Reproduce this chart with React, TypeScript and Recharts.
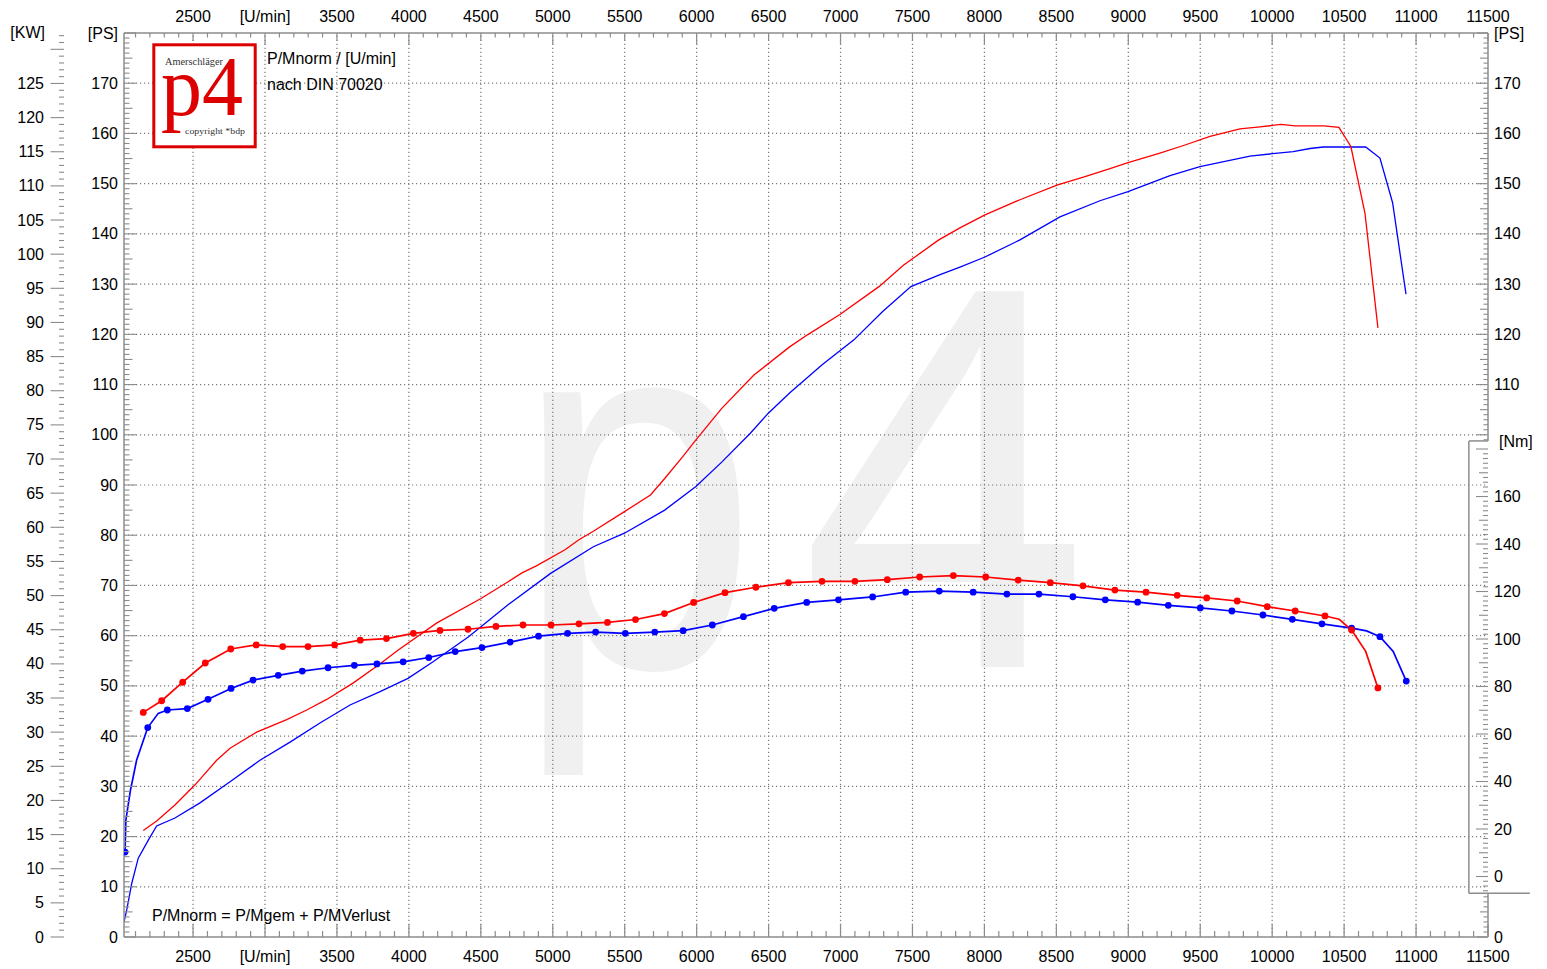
import React from 'react';
import { ComposedChart, Line, XAxis, YAxis, ReferenceLine, ReferenceArea } from 'recharts';

const W = 1547;
const H = 969;
const AXIS = '#8c8c8c';
const GRID = '#7a7a7a';
const FONT = '"Liberation Sans", Arial, Helvetica, sans-serif';
const SERIF = '"Liberation Serif", "Times New Roman", serif';
const RED = '#ff0000';
const BLUE = '#0000ff';

// ---- data ----
const redPowerRpm = [2154, 2247, 2374, 2514, 2664, 2757, 2942, 3151, 3290, 3429, 3614, 3796, 3919, 4192, 4501, 4687, 4786, 4886, 5085, 5182, 5282, 5498, 5679, 5778, 5902, 5995, 6176, 6398, 6646, 6770, 6993, 7267, 7439, 7683, 7830, 8004, 8247, 8504, 8699, 8873, 8998, 9220, 9394, 9568, 9776, 9915, 10061, 10158, 10360, 10464, 10547, 10645, 10735];
const redPowerPs = [21.2, 23.1, 26.3, 30.3, 35.2, 37.6, 40.8, 43.3, 45.2, 47.3, 50.6, 54.3, 57.0, 62.5, 67.4, 70.7, 72.5, 73.9, 77.1, 79.1, 80.8, 84.7, 88.0, 91.3, 95.6, 99.0, 105.3, 111.9, 117.5, 119.9, 123.9, 129.5, 133.8, 138.8, 141.2, 143.8, 146.8, 149.7, 151.4, 153.0, 154.2, 156.1, 157.7, 159.4, 160.9, 161.3, 161.8, 161.5, 161.5, 161.2, 157.4, 144.1, 121.3];

const bluePowerRpm = [2020, 2039, 2074, 2119, 2189, 2247, 2374, 2548, 2757, 2965, 3174, 3382, 3591, 3796, 3994, 4168, 4415, 4687, 4985, 5282, 5498, 5778, 5995, 6176, 6373, 6498, 6646, 6870, 7093, 7291, 7489, 7683, 7830, 8004, 8247, 8525, 8803, 8998, 9290, 9498, 9846, 10146, 10263, 10355, 10650, 10749, 10837, 10930];
const bluePowerPs = [3.0, 5.4, 10.7, 15.7, 19.3, 22.1, 23.7, 26.7, 30.9, 35.2, 38.8, 42.6, 46.2, 48.8, 51.5, 54.8, 59.8, 66.1, 72.4, 77.7, 80.4, 85.0, 89.7, 94.6, 100.3, 104.3, 108.3, 113.9, 118.9, 124.5, 129.5, 131.8, 133.4, 135.4, 138.8, 143.4, 146.6, 148.4, 151.6, 153.4, 155.5, 156.4, 157.0, 157.3, 157.3, 155.1, 146.2, 128.0];

const redTorqueRpm = [2154, 2282, 2428, 2585, 2762, 2939, 3123, 3299, 3484, 3662, 3844, 4031, 4216, 4411, 4605, 4793, 4988, 5182, 5380, 5575, 5776, 5979, 6197, 6412, 6638, 6871, 7100, 7325, 7550, 7784, 8009, 8235, 8458, 8685, 8907, 9123, 9340, 9545, 9757, 9966, 10160, 10367, 10466, 10552, 10650, 10735];
const redTorqueNm = [69.1, 74.0, 81.8, 89.9, 95.8, 97.5, 96.8, 96.8, 97.5, 99.5, 100.2, 102.4, 103.6, 104.1, 105.3, 105.9, 105.9, 106.4, 107.0, 108.2, 110.7, 115.4, 119.5, 121.8, 123.7, 124.3, 124.3, 125.0, 126.1, 126.7, 126.1, 124.8, 123.7, 122.4, 120.6, 119.7, 118.4, 117.3, 116.0, 113.6, 111.8, 109.7, 108.3, 103.8, 94.8, 79.4];
const redTorqueDot = [1, 1, 1, 1, 1, 1, 1, 1, 1, 1, 1, 1, 1, 1, 1, 1, 1, 1, 1, 1, 1, 1, 1, 1, 1, 1, 1, 1, 1, 1, 1, 1, 1, 1, 1, 1, 1, 1, 1, 1, 1, 1, 0, 1, 0, 1];

const blueTorqueRpm = [2027, 2033, 2065, 2108, 2185, 2258, 2321, 2460, 2604, 2764, 2917, 3092, 3259, 3438, 3621, 3778, 3960, 4138, 4322, 4508, 4704, 4901, 5103, 5298, 5504, 5709, 5906, 6109, 6325, 6539, 6765, 6986, 7223, 7453, 7686, 7922, 8156, 8379, 8615, 8840, 9065, 9278, 9500, 9720, 9936, 10140, 10346, 10552, 10656, 10749, 10841, 10932];
const blueTorqueNm = [10.3, 23.8, 36.4, 49.1, 62.7, 68.7, 70.1, 70.7, 74.6, 79.2, 82.7, 84.7, 86.5, 87.9, 88.9, 89.5, 90.4, 92.2, 94.7, 96.4, 98.7, 101.2, 102.4, 102.9, 102.4, 102.9, 103.5, 105.9, 109.4, 112.9, 115.4, 116.5, 117.7, 119.7, 120.2, 119.7, 118.9, 118.9, 117.8, 116.5, 115.5, 114.2, 113.1, 111.8, 110.1, 108.3, 106.4, 104.6, 103.4, 101.0, 94.8, 82.3];
const blueTorqueDot = [1, 0, 0, 0, 1, 0, 1, 1, 1, 1, 1, 1, 1, 1, 1, 1, 1, 1, 1, 1, 1, 1, 1, 1, 1, 1, 1, 1, 1, 1, 1, 1, 1, 1, 1, 1, 1, 1, 1, 1, 1, 1, 1, 1, 1, 1, 1, 1, 0, 1, 0, 1];

// ---- axes ----
const RPM_DOMAIN = [2020, 11500];
const PS_DOMAIN = [0, 180];
const KW_DOMAIN = [0, 180 / 1.35962];
const NM_DOMAIN = [-25.47, 355.16];

const range = (a: number, b: number, s: number) => {
  const r: number[] = [];
  for (let v = a; v <= b + 1e-9; v += s) r.push(Math.round(v * 1000) / 1000);
  return r;
};
const rpmTicks = range(2100, 11500, 100);
const psTicks = range(0, 180, 1);
const kwTicks = range(0, 132, 1);
const nmTicks = range(-6, 180, 2);
const gridRpm = range(2500, 11000, 500);
const gridPs = range(10, 170, 10);

const mk = (xs: number[], ys: number[], ds?: number[]) =>
  xs.map((rpm, i) => ({ rpm, v: ys[i], d: ds ? ds[i] : 0 }));

const redPower = mk(redPowerRpm, redPowerPs);
const bluePower = mk(bluePowerRpm, bluePowerPs);
const redTorque = mk(redTorqueRpm, redTorqueNm, redTorqueDot);
const blueTorque = mk(blueTorqueRpm, blueTorqueNm, blueTorqueDot);

const txt = { fontSize: 16, fontFamily: FONT, fill: '#000' } as const;

const BottomTick = (p: any) => {
  const { x, y, payload } = p;
  const v = payload.value;
  const major = v % 500 === 0;
  return (
    <g>
      <line x1={x} x2={x} y1={y} y2={y - (major ? 13 : 6)} stroke={AXIS} strokeWidth={1.2} />
      {major && (
        <text x={x} y={y + 24.5} textAnchor="middle" {...txt}>
          {v === 3000 ? '[U/min]' : v}
        </text>
      )}
    </g>
  );
};

const TopTick = (p: any) => {
  const { x, y, payload } = p;
  const v = payload.value;
  const len = v % 1000 === 0 ? 12 : v % 500 === 0 ? 8 : 4.5;
  return (
    <g>
      <line x1={x} x2={x} y1={y} y2={y + len} stroke={AXIS} strokeWidth={1.2} />
      {v % 500 === 0 && (
        <text x={x} y={y - 11.5} textAnchor="middle" {...txt}>
          {v === 3000 ? '[U/min]' : v}
        </text>
      )}
    </g>
  );
};

const PsLeftTick = (p: any) => {
  const { x, y, payload } = p;
  const v = payload.value;
  const len = v % 10 === 0 ? 12 : v % 5 === 0 ? 8.5 : 5.5;
  return (
    <g>
      <line x1={x} x2={x + len} y1={y} y2={y} stroke={AXIS} strokeWidth={1.1} />
      {v % 10 === 0 && (
        <text x={x - 6} y={y + 5.5} textAnchor="end" {...txt}>
          {v === 180 ? '[PS]' : v}
        </text>
      )}
    </g>
  );
};

const PsRightTick = (p: any) => {
  const { x, y, payload } = p;
  const v = payload.value;
  const len = v % 10 === 0 ? 11 : v % 5 === 0 ? 8 : 4.5;
  const inBox = v > 8.7 && v < 98.8;
  if (inBox) return <g />;
  const showLabel = v % 10 === 0 && v !== 100;
  return (
    <g>
      <line x1={x - len} x2={x} y1={y} y2={y} stroke={AXIS} strokeWidth={1.1} />
      {showLabel && (
        <text x={x + 6} y={y + 5.5} textAnchor="start" {...txt}>
          {v === 180 ? '[PS]' : v}
        </text>
      )}
    </g>
  );
};

const KwTick = (p: any) => {
  const { x, y, payload } = p;
  const v = payload.value;
  const major = v % 5 === 0;
  return (
    <g>
      <line x1={x - (major ? 13.5 : 5)} x2={x} y1={y} y2={y} stroke={AXIS} strokeWidth={1.1} />
      {major && v <= 125 && (
        <text x={x - 20} y={y + 5.5} textAnchor="end" {...txt}>
          {v}
        </text>
      )}
    </g>
  );
};

const NmTick = (p: any) => {
  const { x, y, payload } = p;
  const v = payload.value;
  const len = v % 20 === 0 ? 12 : v % 10 === 0 ? 9 : 5;
  return (
    <g>
      <line x1={x - len} x2={x} y1={y} y2={y} stroke={AXIS} strokeWidth={1.1} />
      {v % 20 === 0 && v >= 0 && v <= 160 && (
        <text x={x + 6} y={y + 5.5} textAnchor="start" {...txt}>
          {v}
        </text>
      )}
    </g>
  );
};

const makeDot = (color: string) => (p: any) => {
  const { cx, cy, payload, index } = p;
  if (!payload || !payload.d) return <g key={`n${index}`} />;
  return <circle key={`d${index}`} cx={cx} cy={cy} r={3.4} fill={color} stroke="none" />;
};

export default function App() {
  return (
    <div style={{ position: 'absolute', left: 0, top: 0, width: W, height: H, background: '#fff' }}>
      {/* watermark */}
      <svg width={W} height={H} style={{ position: 'absolute', left: 0, top: 0 }}>
        <g transform="translate(515,667) scale(0.84,1)">
          <text x={0} y={0} fontSize={520} fontFamily={FONT} fill="#f0f0f0">p</text>
        </g>
        <g transform="translate(800,667) scale(1,1.05)">
          <text x={0} y={0} fontSize={520} fontFamily={FONT} fill="#f0f0f0">4</text>
        </g>
      </svg>
      <div style={{ position: 'absolute', left: 0, top: 0 }}>
        <ComposedChart width={W} height={H} margin={{ top: 0, right: 0, bottom: 0, left: 0 }}>
          {gridRpm.map((v) => (
            <ReferenceLine key={`gx${v}`} x={v} xAxisId="bottom" yAxisId="ps" stroke={GRID} strokeWidth={1.2} strokeDasharray="1.2 2.8" />
          ))}
          {gridPs.map((v) => (
            <ReferenceLine key={`gy${v}`} y={v} xAxisId="bottom" yAxisId="ps" stroke={GRID} strokeWidth={1.2} strokeDasharray="1.2 2.8" />
          ))}
          <ReferenceArea x1={11367} x2={11500} y1={-7} y2={183.4} xAxisId="bottom" yAxisId="nm" fill="#fff" fillOpacity={1} stroke="none" ifOverflow="visible" />
          <ReferenceLine xAxisId="bottom" yAxisId="nm" segment={[{ x: 11367, y: -7 }, { x: 11367, y: 183.4 }]} stroke={AXIS} strokeWidth={1.5} ifOverflow="visible" />
          <ReferenceLine xAxisId="bottom" yAxisId="nm" segment={[{ x: 11367, y: 183.4 }, { x: 11500, y: 183.4 }]} stroke={AXIS} strokeWidth={1.5} ifOverflow="visible" />
          <ReferenceLine xAxisId="bottom" yAxisId="nm" segment={[{ x: 11367, y: -7 }, { x: 11791, y: -7 }]} stroke={AXIS} strokeWidth={1.5} ifOverflow="visible" />
          <ReferenceLine xAxisId="bottom" yAxisId="nm" segment={[{ x: 11500, y: 183.4 }, { x: 11500, y: 355.16 }]} stroke={AXIS} strokeWidth={1.5} ifOverflow="visible" />
          <ReferenceLine xAxisId="bottom" yAxisId="nm" segment={[{ x: 11500, y: -25.47 }, { x: 11500, y: -7 }]} stroke={AXIS} strokeWidth={1.5} ifOverflow="visible" />

          <Line data={bluePower} dataKey="v" xAxisId="bottom" yAxisId="ps" type="linear" stroke={BLUE} strokeWidth={1.3} dot={false} isAnimationActive={false} />
          <Line data={redPower} dataKey="v" xAxisId="bottom" yAxisId="ps" type="linear" stroke={RED} strokeWidth={1.3} dot={false} isAnimationActive={false} />
          <Line data={blueTorque} dataKey="v" xAxisId="bottom" yAxisId="nm" type="linear" stroke={BLUE} strokeWidth={1.7} dot={makeDot(BLUE)} isAnimationActive={false} />
          <Line data={redTorque} dataKey="v" xAxisId="bottom" yAxisId="nm" type="linear" stroke={RED} strokeWidth={1.7} dot={makeDot(RED)} isAnimationActive={false} />

          <XAxis xAxisId="bottom" orientation="bottom" type="number" dataKey="rpm" domain={RPM_DOMAIN} allowDataOverflow ticks={rpmTicks} interval={0} height={32} tickSize={0} tickMargin={0} tickLine={false} axisLine={{ stroke: AXIS, strokeWidth: 1.5 }} tick={BottomTick} />
          <XAxis xAxisId="top" orientation="top" type="number" dataKey="rpm" domain={RPM_DOMAIN} allowDataOverflow ticks={rpmTicks} interval={0} height={33} tickSize={0} tickMargin={0} tickLine={false} axisLine={{ stroke: AXIS, strokeWidth: 1.5 }} tick={TopTick} />
          <YAxis yAxisId="kw" orientation="left" type="number" domain={KW_DOMAIN} allowDataOverflow ticks={kwTicks} interval={0} width={124} tickSize={0} tickMargin={60} tickLine={false} axisLine={false} tick={KwTick} />
          <YAxis yAxisId="ps" orientation="left" mirror type="number" domain={PS_DOMAIN} allowDataOverflow ticks={psTicks} interval={0} width={1} tickSize={0} tickMargin={0} tickLine={false} axisLine={{ stroke: AXIS, strokeWidth: 1.5 }} tick={PsLeftTick} />
          <YAxis yAxisId="psr" orientation="right" type="number" domain={PS_DOMAIN} allowDataOverflow ticks={psTicks} interval={0} width={59} tickSize={0} tickMargin={0} tickLine={false} axisLine={false} tick={PsRightTick} />
          <YAxis yAxisId="nm" orientation="right" mirror type="number" domain={NM_DOMAIN} allowDataOverflow ticks={nmTicks} interval={0} width={1} tickSize={0} tickMargin={0} tickLine={false} axisLine={false} tick={NmTick} />
        </ComposedChart>
      </div>
      {/* overlay texts and logo */}
      <svg width={W} height={H} style={{ position: 'absolute', left: 0, top: 0, pointerEvents: 'none' }}>
        <text x={45} y={37.5} textAnchor="end" {...txt}>[KW]</text>
        <text x={1499} y={447} textAnchor="start" {...txt}>[Nm]</text>
        <text x={267} y={63.5} {...txt}>P/Mnorm / [U/min]</text>
        <text x={267} y={89.5} {...txt}>nach DIN 70020</text>
        <text x={152} y={920.5} {...txt}>P/Mnorm = P/Mgem + P/MVerlust</text>
        <rect x={153.8} y={44.8} width={101.4} height={102} fill="#fff" stroke="#dd0000" strokeWidth={3} />
        <text x={165} y={64.5} fontSize={10} fontFamily={SERIF} fill="#333" textLength={58} lengthAdjust="spacingAndGlyphs">Amerschläger</text>
        <text x={161} y={115} fontSize={84} fontFamily={SERIF} fill="#dd0000" textLength={82} lengthAdjust="spacingAndGlyphs">p4</text>
        <text x={185} y={134} fontSize={9} fontFamily={SERIF} fill="#333" textLength={60} lengthAdjust="spacingAndGlyphs">copyright *bdp</text>
      </svg>
    </div>
  );
}
